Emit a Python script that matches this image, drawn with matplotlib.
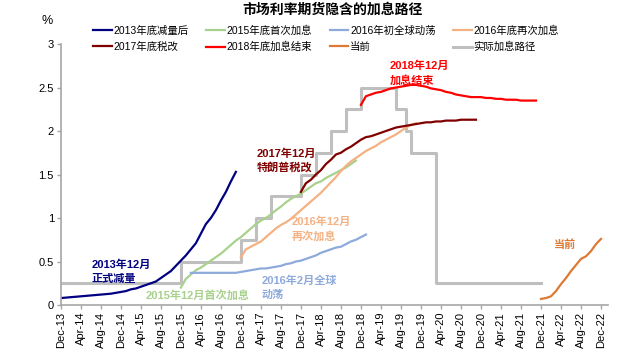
import matplotlib
matplotlib.use("Agg")
import matplotlib.pyplot as plt

plt.rcParams['font.family'] = ['Liberation Sans', 'Noto Sans CJK SC', 'DejaVu Sans']

# x axis: months since Dec-2013
tick_months = list(range(0, 109, 4))
tick_labels = ["Dec-13", "Apr-14", "Aug-14", "Dec-14", "Apr-15", "Aug-15", "Dec-15",
               "Apr-16", "Aug-16", "Dec-16", "Apr-17", "Aug-17", "Dec-17", "Apr-18",
               "Aug-18", "Dec-18", "Apr-19", "Aug-19", "Dec-19", "Apr-20", "Aug-20",
               "Dec-20", "Apr-21", "Aug-21", "Dec-21", "Apr-22", "Aug-22", "Dec-22"]

# 2013年底减量后 (starts Dec-13)
taper_start = 0
taper = [0.08, 0.085, 0.09, 0.095, 0.10, 0.105, 0.11, 0.115, 0.12, 0.125, 0.13, 0.14,
         0.15, 0.16, 0.18, 0.19, 0.21, 0.23, 0.25, 0.27, 0.31, 0.35, 0.39, 0.45,
         0.51, 0.57, 0.64, 0.71, 0.82, 0.93, 1.00, 1.09, 1.20, 1.30, 1.42, 1.53]

# 2015年底首次加息 (starts Dec-15)
hike15_start = 24
hike15 = [0.20, 0.30, 0.35, 0.40, 0.43, 0.47, 0.51, 0.55, 0.59, 0.64, 0.69, 0.74,
          0.78, 0.83, 0.88, 0.93, 0.97, 1.00, 1.04, 1.09, 1.13, 1.18, 1.22, 1.25,
          1.28, 1.32, 1.36, 1.40, 1.42, 1.46, 1.49, 1.52, 1.55, 1.58, 1.62, 1.66]

# 2016年初全球动荡 (starts Feb-16)
turmoil_start = 26
turmoil = [0.37, 0.37, 0.37, 0.37, 0.37, 0.37, 0.37, 0.37, 0.37, 0.37, 0.38, 0.39,
           0.40, 0.41, 0.42, 0.42, 0.43, 0.44, 0.45, 0.47, 0.48, 0.50, 0.51, 0.53,
           0.55, 0.57, 0.60, 0.62, 0.64, 0.66, 0.67, 0.70, 0.73, 0.75, 0.78, 0.81]

# 2016年底再次加息 (starts Dec-16)
hike16_start = 36
hike16 = [0.55, 0.64, 0.67, 0.70, 0.73, 0.78, 0.83, 0.88, 0.92, 0.95, 0.99, 1.04,
          1.09, 1.14, 1.19, 1.24, 1.29, 1.35, 1.41, 1.47, 1.54, 1.60, 1.65, 1.69,
          1.73, 1.77, 1.80, 1.83, 1.87, 1.90, 1.93, 1.96, 2.00, 2.04, 2.07, 2.09]

# 2017年底税改 (starts Dec-17)
tax_start = 48
tax = [1.30, 1.40, 1.44, 1.50, 1.55, 1.62, 1.67, 1.73, 1.75, 1.79, 1.82, 1.86,
       1.90, 1.93, 1.94, 1.96, 1.98, 2.00, 2.02, 2.04, 2.05, 2.06, 2.07, 2.08,
       2.09, 2.10, 2.10, 2.11, 2.11, 2.12, 2.12, 2.12, 2.13, 2.13, 2.13, 2.13]

# 2018年底加息结束 (starts Dec-18)
end18_start = 60
end18 = [2.30, 2.40, 2.42, 2.44, 2.45, 2.47, 2.49, 2.50, 2.51, 2.52, 2.53, 2.53,
         2.52, 2.51, 2.49, 2.48, 2.47, 2.45, 2.44, 2.42, 2.41, 2.40, 2.39, 2.39,
         2.39, 2.38, 2.38, 2.37, 2.37, 2.36, 2.36, 2.36, 2.35, 2.35, 2.35, 2.35]

# 当前 (starts Dec-21)
now_start = 96
now = [0.07, 0.08, 0.10, 0.16, 0.24, 0.31, 0.39, 0.46, 0.53, 0.56, 0.62, 0.70, 0.76]

# 实际加息路径 (step changes)
rate_months = [0, 24, 36, 39, 42, 48, 51, 54, 57, 60, 67, 69, 70, 75, 96]
rate_levels = [0.25, 0.5, 0.75, 1.0, 1.25, 1.5, 1.75, 2.0, 2.25, 2.5, 2.25, 2.0, 1.75, 0.25, 0.25]

series = [
    ("2013年底减量后", taper_start, taper, "#000080"),
    ("2015年底首次加息", hike15_start, hike15, "#a9d18e"),
    ("2016年初全球动荡", turmoil_start, turmoil, "#8eaadb"),
    ("2016年底再次加息", hike16_start, hike16, "#f4b183"),
    ("2017年底税改", tax_start, tax, "#800000"),
    ("2018年底加息结束", end18_start, end18, "#ff0000"),
    ("当前", now_start, now, "#dd7a35"),
]

fig = plt.figure(figsize=(6.4, 3.58), dpi=100)
ax = fig.add_axes([0.095, 0.148, 0.855, 0.729])

handles = {}
gray, = ax.step(rate_months, rate_levels, where='post', color="#bfbfbf", lw=2.2, zorder=1)
handles["实际加息路径"] = gray
for name, start, vals, col in series:
    xs = range(start, start + len(vals))
    ln, = ax.plot(xs, vals, color=col, lw=1.6, zorder=2)
    handles[name] = ln

ax.set_xlim(0, 109.4)
ax.set_ylim(0, 3)
ax.set_yticks([0, 0.5, 1, 1.5, 2, 2.5, 3])
ax.set_yticklabels(["0", "0.5", "1", "1.5", "2", "2.5", "3"], fontsize=8)
ax.set_xticks(tick_months)
ax.set_xticklabels(tick_labels, rotation=90, fontsize=8)
for s in ["top", "right"]:
    ax.spines[s].set_visible(False)
for s in ["left", "bottom"]:
    ax.spines[s].set_color("#a6a6a6")
    ax.spines[s].set_linewidth(1.2)
ax.tick_params(axis="both", color="#a6a6a6", length=3, width=1, pad=2)

# annotations
notes = [
    ("2013年12月\n正式减量", 6.2, 0.38, "#000080"),
    ("2015年12月首次加息", 17, 0.11, "#a9d18e"),
    ("2016年2月全球\n动荡", 40.2, 0.20, "#8eaadb"),
    ("2016年12月\n再次加息", 46.2, 0.87, "#f4b183"),
    ("2017年12月\n特朗普税改", 39.2, 1.66, "#800000"),
    ("2018年12月\n加息结束", 65.8, 2.67, "#ff0000"),
    ("当前", 98.6, 0.69, "#dd7a35"),
]
for txt, x, y, col in notes:
    ax.text(x, y, txt, color=col, fontsize=8, fontweight="bold", va="center",
            ha="left", linespacing=1.45)

order = ["2013年底减量后", "2017年底税改", "2015年底首次加息", "2018年底加息结束",
         "2016年初全球动荡", "当前", "2016年底再次加息", "实际加息路径"]
fig.legend([handles[k] for k in order], order, loc="center", ncol=4,
           bbox_to_anchor=(326 / 640, 1 - 39 / 358), frameon=False, fontsize=7.5,
           handlelength=1.8, handletextpad=0.15, columnspacing=1.7, labelspacing=0.55)

fig.text(333 / 640, 1 - 10 / 358, "市场利率期货隐含的加息路径", ha="center", va="center",
         fontsize=10, fontweight="bold")
fig.text(47 / 640, 1 - 21 / 358, "%", ha="center", va="center", fontsize=9)

fig.savefig("out.png", dpi=100)
